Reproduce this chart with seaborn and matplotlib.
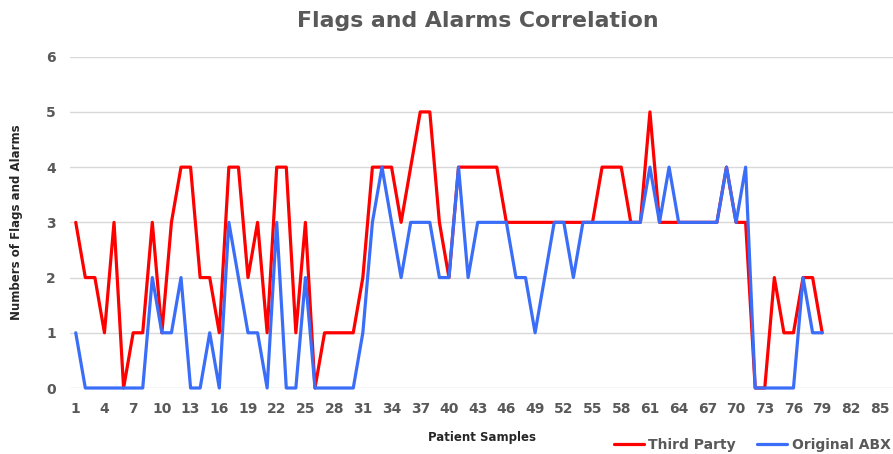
#importing modules
import pandas as pd
import numpy as np
import seaborn as sns
import matplotlib.pyplot as plt

#chart values
samples = list(range(1, 80))
third_party = [3, 2, 2, 1, 3, 0, 1, 1, 3, 1,
               3, 4, 4, 2, 2, 1, 4, 4, 2, 3,
               1, 4, 4, 1, 3, 0, 1, 1, 1, 1,
               2, 4, 4, 4, 3, 4, 5, 5, 3, 2,
               4, 4, 4, 4, 4, 3, 3, 3, 3, 3,
               3, 3, 3, 3, 3, 4, 4, 4, 3, 3,
               5, 3, 3, 3, 3, 3, 3, 3, 4, 3,
               3, 0, 0, 2, 1, 1, 2, 2, 1]
original_abx = [1, 0, 0, 0, 0, 0, 0, 0, 2, 1,
                1, 2, 0, 0, 1, 0, 3, 2, 1, 1,
                0, 3, 0, 0, 2, 0, 0, 0, 0, 0,
                1, 3, 4, 3, 2, 3, 3, 3, 2, 2,
                4, 2, 3, 3, 3, 3, 2, 2, 1, 2,
                3, 3, 2, 3, 3, 3, 3, 3, 3, 3,
                4, 3, 4, 3, 3, 3, 3, 3, 4, 3,
                4, 0, 0, 0, 0, 0, 2, 1, 1]
series_names = ["Third Party", "Original ABX"]
x_ticks = list(range(1, 86, 3))
y_ticks = list(range(0, 7))

#long format for seaborn
df = pd.DataFrame({
    "sample": samples * 2,
    "value": third_party + original_abx,
    "series": [series_names[0]] * len(samples) + [series_names[1]] * len(samples),
})

sns.set_style("white")
gray = "#595959"

fig = plt.figure(figsize=(8.93, 4.54), dpi=100)
ax = fig.add_axes([70 / 893, 1 - 388 / 454, 1 - 70 / 893, (388 - 56.7) / 454])

sns.lineplot(data=df, x="sample", y="value", hue="series",
             palette={"Third Party": "#FF0000", "Original ABX": "#3B6EF8"},
             linewidth=2.3, ax=ax, legend=True)
for line in ax.get_lines():
    line.set_clip_on(False)

ax.set_xlim(0.4, 86.4)
ax.set_ylim(0, 6)
ax.set_xticks(x_ticks)
ax.set_yticks(y_ticks)
ax.tick_params(axis="both", length=0, labelsize=10, labelcolor=gray, pad=10)
for lbl in ax.get_xticklabels() + ax.get_yticklabels():
    lbl.set_fontweight("bold")
ax.yaxis.grid(True, color="#D9D9D9", linewidth=1)
ax.set_axisbelow(True)
sns.despine(ax=ax, left=True, bottom=True)

ax.set_xlabel("Patient Samples", fontsize=8.5, fontweight="bold", labelpad=11)
ax.set_ylabel("Numbers of Flags and Alarms", fontsize=8.5, fontweight="bold", labelpad=17)
fig.suptitle("Flags and Alarms Correlation", x=0.535, y=0.975, fontsize=15.8,
             fontweight="bold", color=gray)

leg = ax.legend(loc="center right", bbox_to_anchor=(0.997, -0.173), ncol=2, frameon=False,
                fontsize=10, handlelength=2.2, columnspacing=1.5, handletextpad=0.3,
                borderaxespad=0, borderpad=0)
for t in leg.get_texts():
    t.set_color(gray)
    t.set_fontweight("bold")

plt.savefig("out.png", dpi=100)
